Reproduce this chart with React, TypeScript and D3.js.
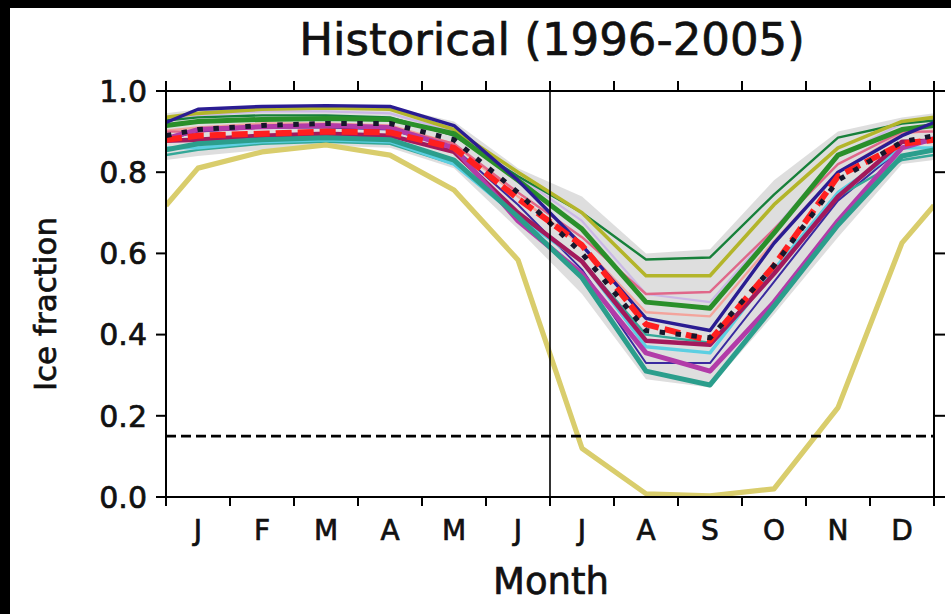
import React from "react";
import * as d3 from "d3";

// ---------- data ----------
const MONTHS = ["J", "F", "M", "A", "M", "J", "J", "A", "S", "O", "N", "D"];
const Y_TICKS = [0, 0.2, 0.4, 0.6, 0.8, 1.0];
const THRESHOLD = 0.15;
const TITLE = "Historical (1996-2005)";

const bandLow = [0.84, 0.855, 0.865, 0.86, 0.81, 0.66, 0.5, 0.29, 0.27, 0.45, 0.64, 0.82];
const bandHigh = [0.955, 0.962, 0.965, 0.962, 0.925, 0.81, 0.74, 0.6, 0.61, 0.78, 0.9, 0.935];

const lavender = [0.94, 0.95, 0.95, 0.945, 0.9, 0.79, 0.68, 0.5, 0.48, 0.66, 0.84, 0.92];
const darkGreen = [0.935, 0.94, 0.94, 0.935, 0.89, 0.79, 0.7, 0.585, 0.59, 0.745, 0.885, 0.92];
const olive = [0.945, 0.955, 0.958, 0.955, 0.905, 0.8, 0.7, 0.545, 0.545, 0.72, 0.86, 0.925];
const navy = [0.955, 0.962, 0.964, 0.962, 0.915, 0.78, 0.62, 0.44, 0.41, 0.625, 0.8, 0.89];
const green = [0.925, 0.93, 0.932, 0.93, 0.895, 0.78, 0.66, 0.48, 0.465, 0.65, 0.842, 0.905];
const salmon = [0.91, 0.92, 0.92, 0.915, 0.87, 0.74, 0.62, 0.455, 0.445, 0.63, 0.8, 0.895];
const pink = [0.9, 0.91, 0.912, 0.91, 0.87, 0.75, 0.64, 0.5, 0.505, 0.66, 0.82, 0.9];
const navyThin = [0.9, 0.91, 0.91, 0.905, 0.86, 0.72, 0.56, 0.33, 0.33, 0.53, 0.73, 0.86];
const crimson = [0.88, 0.89, 0.895, 0.89, 0.85, 0.7, 0.58, 0.385, 0.375, 0.55, 0.74, 0.875];
const tealThin = [0.855, 0.87, 0.875, 0.87, 0.82, 0.7, 0.58, 0.4, 0.38, 0.55, 0.74, 0.83];
const cyan = [0.86, 0.875, 0.88, 0.875, 0.82, 0.69, 0.58, 0.37, 0.355, 0.56, 0.75, 0.86];
const magenta = [0.905, 0.912, 0.915, 0.91, 0.86, 0.68, 0.55, 0.355, 0.31, 0.48, 0.68, 0.86];
const teal = [0.87, 0.88, 0.885, 0.88, 0.83, 0.69, 0.54, 0.31, 0.276, 0.47, 0.67, 0.84];
const outlier = [0.81, 0.85, 0.867, 0.842, 0.756, 0.584, 0.12, 0.008, 0.003, 0.02, 0.22, 0.626];
const obsRed = [0.89, 0.895, 0.9, 0.898, 0.86, 0.735, 0.62, 0.425, 0.385, 0.57, 0.79, 0.87];
const obsBlack = [0.905, 0.915, 0.92, 0.92, 0.88, 0.75, 0.6, 0.41, 0.392, 0.57, 0.78, 0.875];

// ---------- styles ----------
const SERIES = [
  { values: lavender, color: "#cbb8e6", width: 2.2 },
  { values: darkGreen, color: "#17803a", width: 2.4 },
  { values: olive, color: "#b3b52a", width: 3.6 },
  { values: salmon, color: "#f3a49c", width: 2.4 },
  { values: pink, color: "#e0688a", width: 2.4 },
  { values: green, color: "#2a8f2a", width: 5 },
  { values: navy, color: "#2a1c92", width: 3.4 },
  { values: navyThin, color: "#3a2aa0", width: 2 },
  { values: tealThin, color: "#34a898", width: 2.4 },
  { values: cyan, color: "#5ccfe2", width: 3.4 },
  { values: crimson, color: "#a3195c", width: 4.5 },
  { values: magenta, color: "#b23ba8", width: 5 },
  { values: teal, color: "#2b9e8c", width: 5 },
  { values: outlier, color: "#d9cd6c", width: 5.2 },
];

const W = 951;
const H = 614;
const M = { left: 166, right: 934, top: 91, bottom: 497 };
const FONT = "'DejaVu Sans', sans-serif";
const TEXT_STYLE = { fill: "#111", stroke: "#111", strokeWidth: 0.7 };

function wrap(values: number[]): [number, number][] {
  const edge = (values[11] + values[0]) / 2;
  return [[-0.5, edge], ...values.map((v, i) => [i, v] as [number, number]), [11.5, edge]];
}

export default function App() {
  const x = d3.scaleLinear().domain([-0.5, 11.5]).range([M.left, M.right]);
  const y = d3.scaleLinear().domain([0, 1]).range([M.bottom, M.top]);
  const line = d3
    .line<[number, number]>()
    .x((d) => x(d[0]))
    .y((d) => y(d[1]));
  const hi = wrap(bandHigh);
  const bandPts = wrap(bandLow).map((d, i) => [d[0], d[1], hi[i][1]]);
  const area = d3
    .area<number[]>()
    .x((d) => x(d[0]))
    .y0((d) => y(d[1]))
    .y1((d) => y(d[2]));
  const boundaries = d3.range(0, 13).map((i) => i - 0.5);

  return (
    <svg
      width={W}
      height={H}
      style={{ position: "absolute", left: 0, top: 0, background: "#000" }}
      fontFamily={FONT}
    >
      <rect x={10} y={8} width={W - 10} height={H - 8} fill="#fff" />
      <defs>
        <clipPath id="plot">
          <rect x={M.left} y={M.top} width={M.right - M.left} height={M.bottom - M.top} />
        </clipPath>
      </defs>
      <text x={552} y={55} textAnchor="middle" fontSize={45} {...TEXT_STYLE}>
        {TITLE}
      </text>
      <g clipPath="url(#plot)">
        <path d={area(bandPts) || ""} fill="#d8d8d8" opacity={0.85} />
        {SERIES.map((s, i) => (
          <path
            key={i}
            d={line(wrap(s.values)) || ""}
            fill="none"
            stroke={s.color}
            strokeWidth={s.width}
            strokeLinejoin="round"
          />
        ))}
        <path
          d={line(wrap(obsRed)) || ""}
          fill="none"
          stroke="#ff1f1f"
          strokeWidth={6}
          strokeDasharray="16 6"
          strokeLinejoin="round"
        />
        <path
          d={line(wrap(obsBlack)) || ""}
          fill="none"
          stroke="#17172c"
          strokeWidth={5}
          strokeDasharray="5.5 10.5"
          strokeLinejoin="round"
        />
        <line
          x1={M.left}
          x2={M.right}
          y1={y(THRESHOLD)}
          y2={y(THRESHOLD)}
          stroke="#000"
          strokeWidth={2.6}
          strokeDasharray="10 5"
        />
        <line x1={x(5.5)} x2={x(5.5)} y1={M.top} y2={M.bottom} stroke="#000" strokeWidth={1.6} />
      </g>
      {/* spines */}
      <rect
        x={M.left}
        y={M.top}
        width={M.right - M.left}
        height={M.bottom - M.top}
        fill="none"
        stroke="#000"
        strokeWidth={2}
      />
      {/* y ticks */}
      {Y_TICKS.map((t) => (
        <g key={t}>
          <line x1={M.left - 10} x2={M.left} y1={y(t)} y2={y(t)} stroke="#000" strokeWidth={2} />
          <line x1={M.right} x2={M.right + 11} y1={y(t)} y2={y(t)} stroke="#000" strokeWidth={2} />
          <text x={M.left - 19} y={y(t)} dy="0.36em" textAnchor="end" fontSize={30} {...TEXT_STYLE}>
            {t.toFixed(1)}
          </text>
        </g>
      ))}
      {/* x ticks */}
      {boundaries.map((b) => (
        <g key={b}>
          <line x1={x(b)} x2={x(b)} y1={M.bottom} y2={M.bottom + 9} stroke="#000" strokeWidth={2} />
          <line x1={x(b)} x2={x(b)} y1={M.top - 10} y2={M.top} stroke="#000" strokeWidth={2} />
        </g>
      ))}
      {MONTHS.map((m, i) => (
        <text key={i} x={x(i)} y={540} textAnchor="middle" fontSize={28} {...TEXT_STYLE}>
          {m}
        </text>
      ))}
      <text x={551} y={594} textAnchor="middle" fontSize={37} {...TEXT_STYLE}>
        Month
      </text>
      <text
        transform={`translate(56,${(M.top + M.bottom) / 2 + 10}) rotate(-90)`}
        textAnchor="middle"
        fontSize={31}
        {...TEXT_STYLE}
      >
        Ice fraction
      </text>
    </svg>
  );
}
